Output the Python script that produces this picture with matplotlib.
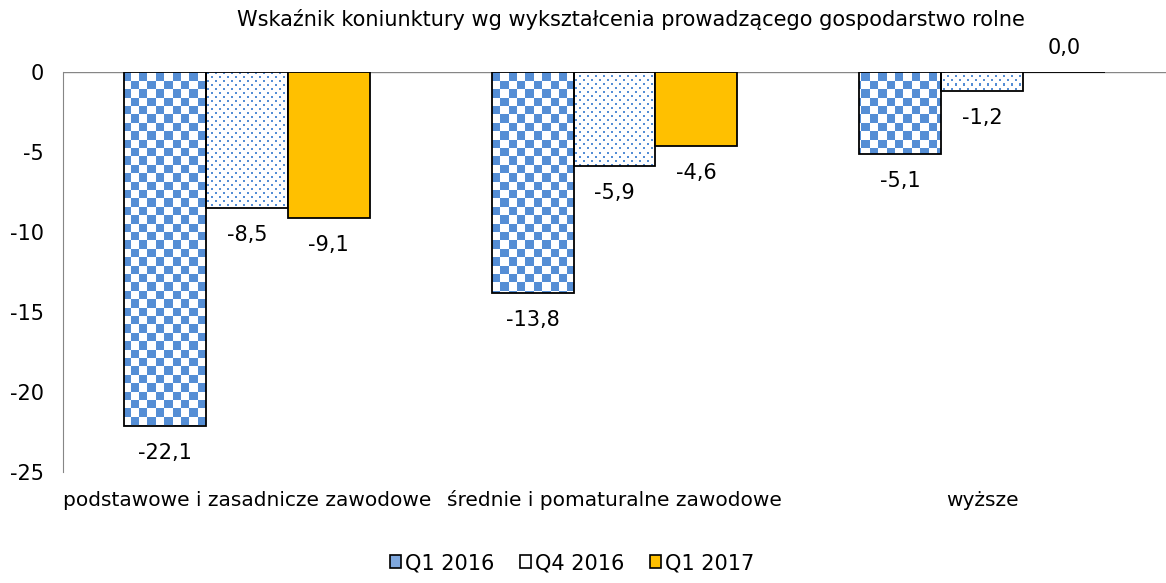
import numpy as np
import matplotlib
matplotlib.use("Agg")
import matplotlib.pyplot as plt
from matplotlib.patches import Patch
from matplotlib.colors import ListedColormap

categories = ["podstawowe i zasadnicze zawodowe", "średnie i pomaturalne zawodowe", "wyższe"]
series = ["Q1 2016", "Q4 2016", "Q1 2017"]
q1_2016 = [-22.1, -13.8, -5.1]
q4_2016 = [-8.5, -5.9, -1.2]
q1_2017 = [-9.1, -4.6, 0.0]
yticks = [0, -5, -10, -15, -20, -25]
title = "Wskaźnik koniunktury wg wykształcenia prowadzącego gospodarstwo rolne"

BLUE = "#558ED5"
GOLD = "#FFC000"
GRID = "#868686"
FS = 15

plt.rcParams['font.family'] = ['DejaVu Sans']

W, H, DPI = 1166, 583, 100
fig = plt.figure(figsize=(W / DPI, H / DPI), dpi=DPI)
ax_l, ax_b, ax_w, ax_h = 63, 111, 1103, 400   # axes box in pixels
ax = fig.add_axes([ax_l / W, ax_b / H, ax_w / W, ax_h / H])

x = np.arange(len(categories))
w = 0.223

# pixel textures: checkerboard and staggered dots
rr, cc = np.mgrid[0:ax_h, 0:ax_w]
cell = 8.4
checker = ((np.floor(rr / cell) + np.floor(cc / cell)) % 2).astype(float)
dots = ((((rr % 8) < 2) & ((cc % 8) < 2)) |
        (((rr % 8) >= 4) & ((rr % 8) < 6) & ((cc % 8) >= 4) & ((cc % 8) < 6))).astype(float)
tex_cmap = ListedColormap(["white", BLUE])


def textured(bars, tex):
    for b in bars:
        im = ax.imshow(tex, cmap=tex_cmap, extent=[0, 1, 0, 1], transform=ax.transAxes,
                       interpolation="nearest", aspect="auto", zorder=2.5)
        im.set_clip_path(b)


bars1 = ax.bar(x - w, q1_2016, w, facecolor="none", edgecolor="black", lw=1.3, zorder=3)
textured(bars1, checker)
bars2 = ax.bar(x, q4_2016, w, facecolor="none", edgecolor="black", lw=1.3, zorder=3)
textured(bars2, dots)
bars3 = ax.bar(x + w, q1_2017, w, facecolor=GOLD, edgecolor="black", lw=1.3, zorder=3)

for bars, vals in [(bars1, q1_2016), (bars2, q4_2016), (bars3, q1_2017)]:
    for b, v in zip(bars, vals):
        off = -27 if v < 0 else 24
        ax.annotate(f"{v:.1f}".replace(".", ","), (b.get_x() + b.get_width() / 2, v),
                    xytext=(0, off), textcoords="offset pixels",
                    ha="center", va="center", fontsize=FS, zorder=4)

ax.set_xlim(-0.5, len(categories) - 0.5)
ax.set_ylim(-25, 0)
ax.set_yticks(yticks)
ax.set_yticklabels([str(t) for t in yticks], fontsize=FS)
ax.set_xticks(x)
ax.set_xticklabels(categories, fontsize=14.5, va="baseline")
ax.tick_params(axis="y", length=0, pad=14)
ax.tick_params(axis="x", length=0, pad=24.5)
for s in ["top", "right", "bottom"]:
    ax.spines[s].set_visible(False)
ax.spines["left"].set_color(GRID)
ax.axhline(0, color=GRID, lw=1, zorder=2)

fig.text(631 / W, 1 - 20 / H, title, ha="center", va="center", fontsize=FS)

handles = [Patch(facecolor="#7FA8DE", edgecolor="black", lw=1.2),
           Patch(facecolor="white", edgecolor="black", lw=1.2),
           Patch(facecolor=GOLD, edgecolor="black", lw=1.2)]
fig.legend(handles, series, loc="center", bbox_to_anchor=(572 / W, 1 - 563 / H), ncol=3,
           frameon=False, fontsize=FS, handlelength=0.55, handleheight=0.55,
           handletextpad=0.2, columnspacing=1.2)

fig.savefig("out.png", dpi=DPI)
